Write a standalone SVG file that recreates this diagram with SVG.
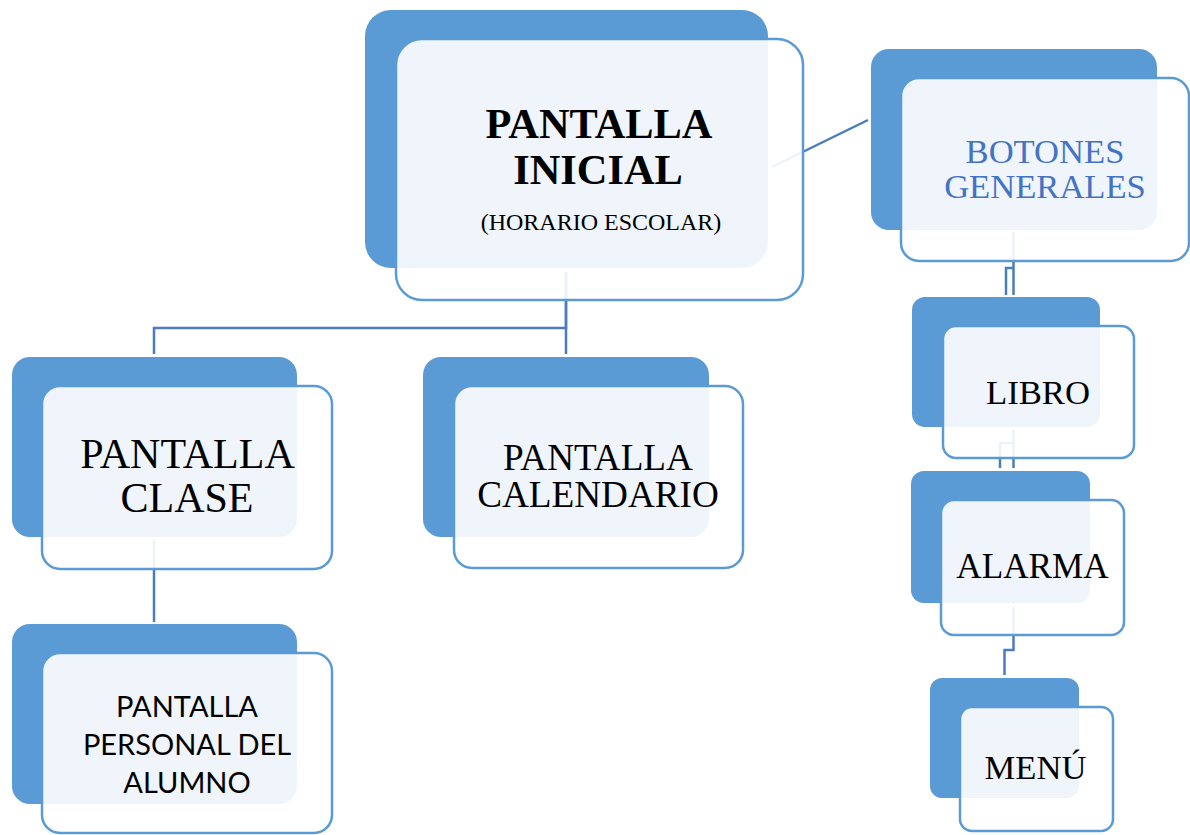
<svg xmlns="http://www.w3.org/2000/svg" width="1190" height="835" viewBox="0 0 1190 835">
<style>
.back{fill:#5B9BD5;}
.front{fill:#FFFFFF;fill-opacity:0.9;stroke:#5B9BD5;stroke-width:2.5;}
.conn{fill:none;stroke:#4A7EBB;stroke-width:2.5;}
.serif{font-family:"Liberation Serif","Times New Roman",serif;fill:#000;text-anchor:middle;}
.sans{font-family:Lato,"Open Sans",sans-serif;fill:#000;text-anchor:middle;}
</style>
<rect width="1190" height="835" fill="#FFFFFF"/>
<g id="connectors">
<path class="conn" d="M566,272 V328 H154 V354"/>
<path class="conn" d="M566,272 V354"/>
<path class="conn" d="M772,167 L868,120"/>
<path class="conn" d="M1013.5,232 V295"/>
<path class="conn" d="M1013.5,268 H1006 V295"/>
<path class="conn" d="M154,540 V622"/>
<path class="conn" d="M1013.5,430 V468"/>
<path class="conn" d="M1013.5,443 H1000 V468"/>
<path class="conn" d="M1013.5,607 V650 H1004.5 V675"/>
</g>
<g id="node-inicial">
<rect class="back" x="365" y="10" width="403" height="258" rx="26"/>
<rect class="front" x="396" y="39" width="407" height="261" rx="26"/>
<text class="serif" x="599" y="138" font-size="42.4" font-weight="bold">PANTALLA</text>
<text class="serif" x="598" y="184" font-size="42.4" font-weight="bold">INICIAL</text>
<text class="serif" x="601" y="230" font-size="24">(HORARIO ESCOLAR)</text>
</g>
<g id="node-botones">
<rect class="back" x="871" y="49" width="286" height="181" rx="18"/>
<rect class="front" x="901" y="78" width="288" height="183" rx="18"/>
<text class="serif" x="1045" y="163" font-size="34.6" style="fill:#4472C4">BOTONES</text>
<text class="serif" x="1045" y="198" font-size="34.6" style="fill:#4472C4">GENERALES</text>
</g>
<g id="node-clase">
<rect class="back" x="12" y="357" width="285" height="180" rx="18"/>
<rect class="front" x="42" y="386" width="290" height="183" rx="18"/>
<text class="serif" x="187.5" y="468" font-size="42">PANTALLA</text>
<text class="serif" x="187" y="512" font-size="42">CLASE</text>
</g>
<g id="node-calendario">
<rect class="back" x="423" y="357" width="286" height="180" rx="18"/>
<rect class="front" x="454" y="386" width="289" height="182" rx="18"/>
<text class="serif" x="598" y="470" font-size="37.2">PANTALLA</text>
<text class="serif" x="598" y="507" font-size="37.2">CALENDARIO</text>
</g>
<g id="node-personal">
<rect class="back" x="12" y="624" width="285" height="180" rx="18"/>
<rect class="front" x="42" y="653" width="290" height="180" rx="18"/>
<text class="sans" x="187" y="717" font-size="29">PANTALLA</text>
<text class="sans" x="187" y="755" font-size="29">PERSONAL DEL</text>
<text class="sans" x="187" y="793" font-size="29">ALUMNO</text>
</g>
<g id="node-libro">
<rect class="back" x="912" y="297" width="188" height="130" rx="13"/>
<rect class="front" x="943" y="326" width="191" height="132" rx="13"/>
<text class="serif" x="1038" y="404" font-size="34.7">LIBRO</text>
</g>
<g id="node-alarma">
<rect class="back" x="911" y="471" width="179" height="132" rx="13"/>
<rect class="front" x="941" y="500" width="183" height="135" rx="13"/>
<text class="serif" x="1032.5" y="578" font-size="35.2">ALARMA</text>
</g>
<g id="node-menu">
<rect class="back" x="930" y="678" width="149" height="120" rx="12"/>
<rect class="front" x="960" y="707" width="153" height="124" rx="12"/>
<text class="serif" x="1035.5" y="779" font-size="34.6">MENÚ</text>
</g>
</svg>
